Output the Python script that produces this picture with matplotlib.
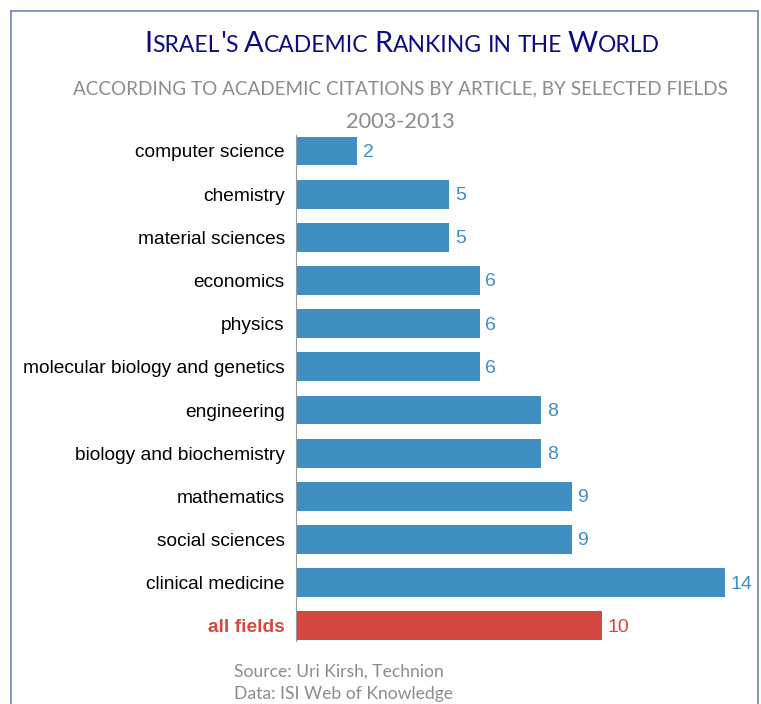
import numpy as np
import matplotlib.pyplot as plt
from matplotlib.lines import Line2D

fields = ["computer science", "chemistry", "material sciences", "economics",
          "physics", "molecular biology and genetics", "engineering",
          "biology and biochemistry", "mathematics", "social sciences",
          "clinical medicine", "all fields"]
ranks = [2, 5, 5, 6, 6, 6, 8, 8, 9, 9, 14, 10]

blue = "#3f8fc2"
red = "#d54840"
grey = "#8c8c8c"
navy = "#0b0b86"

W, H = 761, 704
fig = plt.figure(figsize=(W / 100, H / 100), dpi=100)

# frame around the graphic (bottom edge runs off the canvas)
fx0, fx1, fy0 = 11 / W, 758 / W, 1 - 11 / H
for xs, ys in [([fx0, fx0], [0, fy0]), ([fx0, fx1], [fy0, fy0]), ([fx1, fx1], [fy0, 0])]:
    fig.add_artist(Line2D(xs, ys, transform=fig.transFigure, color="#7089b0", lw=1.2))

ax = fig.add_axes([296 / W, 1 - 641 / H, 460 / W, 506 / H])
y = np.arange(len(fields))
colors = [blue] * (len(fields) - 1) + [red]
ax.barh(y, ranks, height=0.67, color=colors)
ax.set_xlim(0, 460 / 30.64)
ax.set_ylim(len(fields) - 0.65, -0.37)

for yi, v, c in zip(y, ranks, colors):
    ax.annotate(str(v), (v, yi), xytext=(4, -1), textcoords="offset points",
                va="center", ha="left", color=c, fontsize=14,
                family="Liberation Sans", fontweight="medium")

ax.set_yticks(y)
ax.set_yticklabels(fields, family="Liberation Sans", fontsize=13.8)
ax.tick_params(axis="y", length=0, pad=8)
for t in ax.get_yticklabels():
    t.set_y(t.get_position()[1])
lbl = ax.get_yticklabels()[-1]
lbl.set_color(red)
lbl.set_fontweight("bold")
ax.set_xticks([])
for s in ["top", "right", "bottom"]:
    ax.spines[s].set_visible(False)
ax.spines["left"].set_color("#999999")


def small_caps(text, xc, yb, big, small, color, family):
    # draw text in small caps: capitals at full size, others upper-cased smaller
    renderer = fig.canvas.get_renderer()
    pieces = []
    cursor = 0.0
    for wi, word in enumerate(text.split(" ")):
        if wi:
            cursor += 0.26 * small * 100 / 72
        runs = []
        for ch in word:
            is_big = ch.isupper() or ch in "'" or ch.isdigit()
            if runs and runs[-1][1] == is_big:
                runs[-1][0] += ch
            else:
                runs.append([ch, is_big])
        for s, is_big in runs:
            t = fig.text(0, yb, s.upper(), fontsize=big if is_big else small,
                         color=color, family=family, va="baseline", ha="left")
            w = t.get_window_extent(renderer).width
            pieces.append((t, cursor))
            cursor += w
    x0 = xc * W - cursor / 2
    for t, off in pieces:
        t.set_x((x0 + off) / W)


small_caps("Israel's Academic Ranking in the World", 402 / W, 1 - 52 / H,
           21, 16.5, navy, "Lato")
fig.text(400 / W, 1 - 94 / H,
         "ACCORDING TO ACADEMIC CITATIONS BY ARTICLE, BY SELECTED FIELDS",
         ha="center", va="baseline", fontsize=13.6, color=grey, family="Lato")
fig.text(400 / W, 1 - 128 / H, "2003-2013", ha="center", va="baseline",
         fontsize=15.7, color=grey, family="Lato")
fig.text(234 / W, 1 - 677 / H, "Source: Uri Kirsh, Technion", ha="left",
         va="baseline", fontsize=12.6, color=grey, family="Lato")
fig.text(234 / W, 1 - 699 / H, "Data: ISI Web of Knowledge", ha="left",
         va="baseline", fontsize=12.6, color=grey, family="Lato")

fig.savefig("out.png", dpi=100)
